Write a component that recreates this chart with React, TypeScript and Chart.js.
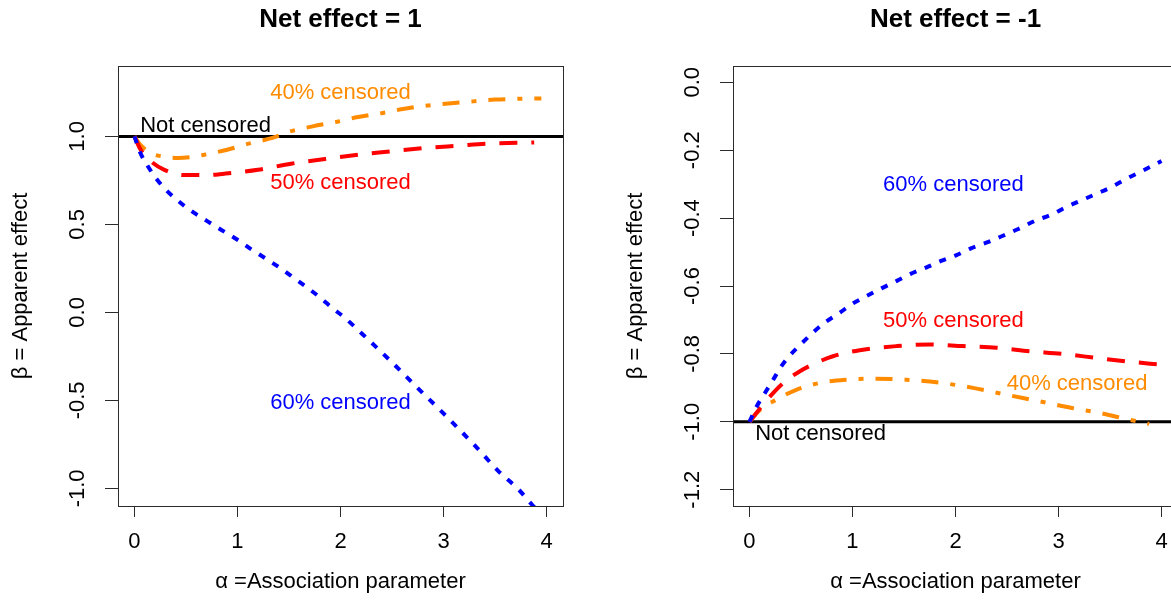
import React, { useEffect, useRef } from "react";
import { Chart, registerables } from "chart.js";

Chart.register(...registerables);

const FONT = '"Liberation Sans", Arial, Helvetica, sans-serif';
const ORANGE = "#FF8C00";
const RED = "#FF0000";
const BLUE = "#0000FF";

// shared x axis
const xTicks = [0, 1, 2, 3, 4];
const xTickLabels = ["0", "1", "2", "3", "4"];
const xMin = -0.16;
const xMax = 4.16;
const xTitle = "α =Association parameter";
const yTitle = "β = Apparent effect";

// ---------- left panel: Net effect = 1 ----------
const leftTitle = "Net effect = 1";
const leftYTicks = [-1, -0.5, 0, 0.5, 1];
const leftYTickLabels = ["-1.0", "-0.5", "0.0", "0.5", "1.0"];
const leftYMin = -1.1;
const leftYMax = 1.4;
const leftNotCensored = 1.0;

const left40X = [0, 0.06, 0.16, 0.28, 0.42, 0.55, 0.68, 0.9, 1.13, 1.33, 1.51, 1.73, 1.98, 2.17, 2.41, 2.62, 2.85, 3.29, 3.5, 3.73, 3.95];
const left40Y = [1.0, 0.95, 0.905, 0.885, 0.877, 0.882, 0.896, 0.924, 0.962, 0.99, 1.028, 1.057, 1.085, 1.11, 1.133, 1.157, 1.176, 1.199, 1.209, 1.214, 1.216];

const left50X = [0, 0.06, 0.16, 0.29, 0.48, 0.7, 0.87, 1.2, 1.52, 1.85, 2.17, 2.49, 2.82, 3.14, 3.44, 3.88];
const left50Y = [1.0, 0.924, 0.858, 0.81, 0.78, 0.78, 0.788, 0.81, 0.845, 0.872, 0.896, 0.915, 0.934, 0.947, 0.959, 0.966];

const left60X = [0, 0.05, 0.13, 0.22, 0.32, 0.47, 0.58, 0.71, 0.84, 1.0, 1.13, 1.29, 1.42, 1.55, 1.68, 1.8, 1.91, 2.04, 2.27, 2.49, 2.75, 2.98, 3.31, 3.53, 3.73, 3.86, 4.0];
const left60Y = [1.0, 0.915, 0.83, 0.754, 0.688, 0.612, 0.565, 0.517, 0.47, 0.413, 0.36, 0.3, 0.25, 0.195, 0.14, 0.085, 0.03, -0.03, -0.155, -0.278, -0.43, -0.5625, -0.76, -0.9, -1.007, -1.093, -1.17];

const leftLabelText = ["Not censored", "40% censored", "50% censored", "60% censored"];
const leftLabelX = [0.69, 2, 2, 2];
const leftLabelY = [1.061, 1.245, 0.737, -0.513];
const leftLabelColor = ["#000000", ORANGE, RED, BLUE];

// ---------- right panel: Net effect = -1 ----------
const rightTitle = "Net effect = -1";
const rightYTicks = [-1.2, -1.0, -0.8, -0.6, -0.4, -0.2, 0.0];
const rightYTickLabels = ["-1.2", "-1.0", "-0.8", "-0.6", "-0.4", "-0.2", "0.0"];
const rightYMin = -1.248;
const rightYMax = 0.048;
const rightNotCensored = -1.0;

const right40X = [0, 0.1, 0.26, 0.46, 0.69, 0.94, 1.2, 1.52, 1.85, 2.17, 2.49, 2.82, 3.14, 3.4, 3.66, 3.88];
const right40Y = [-1.0, -0.965, -0.935, -0.905, -0.885, -0.876, -0.873, -0.876, -0.885, -0.9, -0.92, -0.94, -0.96, -0.974, -0.992, -1.006];

const right50X = [0, 0.09, 0.2, 0.33, 0.49, 0.65, 0.81, 1.07, 1.43, 1.75, 2.07, 2.4, 2.72, 3.04, 3.37, 3.66, 4.0];
const right50Y = [-1.0, -0.965, -0.925, -0.885, -0.851, -0.826, -0.807, -0.789, -0.777, -0.772, -0.777, -0.782, -0.792, -0.8, -0.812, -0.822, -0.832];

const right60X = [0, 0.07, 0.15, 0.23, 0.31, 0.39, 0.51, 0.62, 0.73, 0.88, 0.99, 1.14, 1.28, 1.43, 1.56, 1.72, 1.86, 2.01, 2.15, 2.32, 2.46, 2.61, 2.78, 2.93, 3.07, 3.22, 3.37, 3.51, 3.66, 3.82, 4.0];
const right60Y = [-1.0, -0.955, -0.915, -0.876, -0.836, -0.805, -0.768, -0.736, -0.708, -0.678, -0.654, -0.629, -0.607, -0.585, -0.565, -0.545, -0.526, -0.509, -0.489, -0.47, -0.452, -0.432, -0.407, -0.39, -0.368, -0.348, -0.328, -0.309, -0.284, -0.26, -0.232];

const rightLabelText = ["60% censored", "50% censored", "40% censored", "Not censored"];
const rightLabelX = [1.98, 1.98, 3.18, 0.69];
const rightLabelY = [-0.303, -0.704, -0.888, -1.037];
const rightLabelColor = [BLUE, RED, ORANGE, "#000000"];

type PanelSpec = {
  title: string;
  yTicks: number[];
  yTickLabels: string[];
  yMin: number;
  yMax: number;
  refY: number;
  x40: number[]; y40: number[];
  x50: number[]; y50: number[];
  x60: number[]; y60: number[];
  labelText: string[]; labelX: number[]; labelY: number[]; labelColor: string[];
};

const leftSpec: PanelSpec = {
  title: leftTitle, yTicks: leftYTicks, yTickLabels: leftYTickLabels, yMin: leftYMin, yMax: leftYMax,
  refY: leftNotCensored, x40: left40X, y40: left40Y, x50: left50X, y50: left50Y, x60: left60X, y60: left60Y,
  labelText: leftLabelText, labelX: leftLabelX, labelY: leftLabelY, labelColor: leftLabelColor,
};
const rightSpec: PanelSpec = {
  title: rightTitle, yTicks: rightYTicks, yTickLabels: rightYTickLabels, yMin: rightYMin, yMax: rightYMax,
  refY: rightNotCensored, x40: right40X, y40: right40Y, x50: right50X, y50: right50Y, x60: right60X, y60: right60Y,
  labelText: rightLabelText, labelX: rightLabelX, labelY: rightLabelY, labelColor: rightLabelColor,
};

const zip = (xs: number[], ys: number[]) => xs.map((x, i) => ({ x, y: ys[i] }));

const CANVAS_W = 585;
const CANVAS_H = 600;

const lineCommon = {
  pointRadius: 0,
  pointHoverRadius: 0,
  fill: false,
  cubicInterpolationMode: "monotone" as const,
  borderCapStyle: "butt" as const,
  borderJoinStyle: "round" as const,
  clip: 0,
};

function buildConfig(p: PanelSpec): any {
  const framePlugin = {
    id: "frameAndLabels",
    afterDatasetsDraw(chart: any) {
      const { ctx, chartArea: a, scales } = chart;
      ctx.save();
      ctx.font = `22px ${FONT}`;
      ctx.textAlign = "center";
      ctx.textBaseline = "middle";
      p.labelText.forEach((t, i) => {
        ctx.fillStyle = p.labelColor[i];
        ctx.fillText(t, scales.x.getPixelForValue(p.labelX[i]), scales.y.getPixelForValue(p.labelY[i]));
      });
      ctx.strokeStyle = "#2b2b2b";
      ctx.lineWidth = 1;
      ctx.strokeRect(Math.round(a.left) + 0.5, Math.round(a.top) + 0.5, Math.round(a.right - a.left), Math.round(a.bottom - a.top));
      ctx.restore();
    },
  };

  return {
    type: "line",
    data: {
      datasets: [
        { ...lineCommon, label: "Not censored", data: [{ x: xMin, y: p.refY }, { x: xMax, y: p.refY }], borderColor: "#000", borderWidth: 3, order: 4 },
        { ...lineCommon, label: "40% censored", data: zip(p.x40, p.y40), borderColor: ORANGE, borderWidth: 4, borderDash: [17, 12, 5, 12], order: 3 },
        { ...lineCommon, label: "50% censored", data: zip(p.x50, p.y50), borderColor: RED, borderWidth: 4, borderDash: [18, 14], order: 2 },
        { ...lineCommon, label: "60% censored", data: zip(p.x60, p.y60), borderColor: BLUE, borderWidth: 4, borderDash: [7, 9], order: 1 },
      ],
    },
    options: {
      animation: false,
      responsive: false,
      devicePixelRatio: 1,
      events: [],
      layout: { padding: { left: 0, right: 22, top: 0, bottom: 0 } },
      plugins: {
        legend: { display: false },
        tooltip: { enabled: false },
        title: {
          display: true,
          fullSize: false,
          text: p.title,
          color: "#000",
          font: { family: FONT, size: 26, weight: "bold", lineHeight: 1.2 },
          padding: { top: 4, bottom: 30.8 },
        },
      },
      scales: {
        x: {
          type: "linear",
          min: xMin,
          max: xMax,
          afterBuildTicks: (s: any) => { s.ticks = xTicks.map((v) => ({ value: v })); },
          afterFit: (s: any) => { s.height = 94; },
          ticks: {
            autoSkip: false,
            maxRotation: 0,
            minRotation: 0,
            padding: 12,
            color: "#000",
            font: { family: FONT, size: 22 },
            callback: (v: number) => xTickLabels[xTicks.indexOf(v)],
          },
          grid: { drawOnChartArea: false, drawTicks: true, tickLength: 11, color: "#2b2b2b", lineWidth: 1 },
          border: { display: false },
          title: { display: true, text: xTitle, color: "#000", font: { family: FONT, size: 22, lineHeight: 1.2 }, padding: { top: 0, bottom: 5 } },
        },
        y: {
          type: "linear",
          min: p.yMin,
          max: p.yMax,
          afterBuildTicks: (s: any) => { s.ticks = p.yTicks.map((v) => ({ value: v })); },
          afterFit: (s: any) => { s.width = 118; },
          ticks: {
            autoSkip: false,
            minRotation: 90,
            maxRotation: 90,
            crossAlign: "center",
            padding: 8,
            color: "#000",
            font: { family: FONT, size: 22 },
            callback: (v: number) => {
              const i = p.yTicks.findIndex((t) => Math.abs(t - v) < 1e-9);
              return i >= 0 ? p.yTickLabels[i] : "";
            },
          },
          grid: { drawOnChartArea: false, drawTicks: true, tickLength: 13, color: "#2b2b2b", lineWidth: 1 },
          border: { display: false },
          title: { display: true, text: yTitle, color: "#000", font: { family: FONT, size: 22, lineHeight: 1.2 }, padding: { top: 8, bottom: 0 } },
        },
      },
    },
    plugins: [framePlugin],
  };
}

function Panel({ spec, left }: { spec: PanelSpec; left: number }) {
  const ref = useRef<HTMLCanvasElement | null>(null);
  useEffect(() => {
    if (!ref.current) return;
    const chart = new Chart(ref.current, buildConfig(spec));
    return () => chart.destroy();
  }, [spec]);
  return (
    <canvas
      ref={ref}
      width={CANVAS_W}
      height={CANVAS_H}
      style={{ position: "absolute", left, top: 0, width: CANVAS_W, height: CANVAS_H }}
    />
  );
}

export default function App() {
  return (
    <div
      style={{
        position: "fixed",
        left: 0,
        top: 0,
        width: 1171,
        height: 600,
        overflow: "hidden",
        background: "#ffffff",
      }}
    >
      <Panel spec={leftSpec} left={0} />
      <Panel spec={rightSpec} left={615} />
    </div>
  );
}
